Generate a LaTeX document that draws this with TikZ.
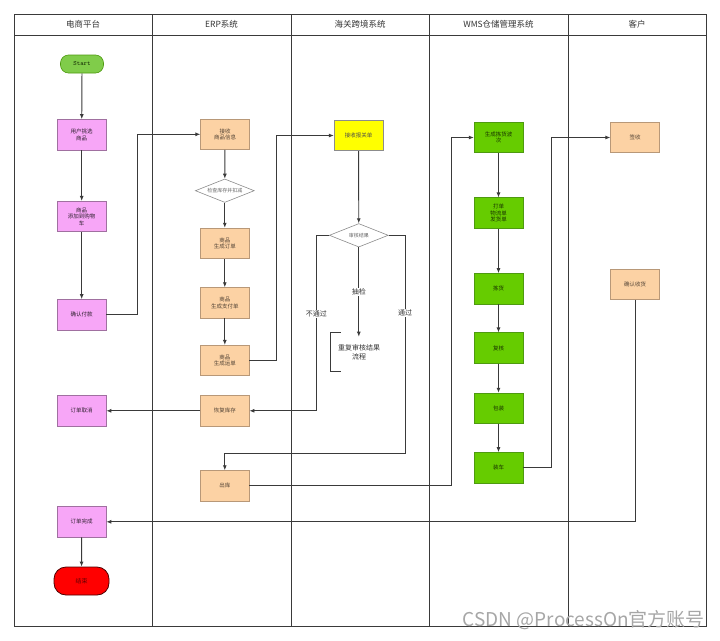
\documentclass[tikz,border=0pt]{standalone}
\usepackage{fontspec}
\newfontfamily\cjk{Noto Sans CJK SC}
\usetikzlibrary{arrows.meta,shapes.geometric,calc}
\definecolor{pinkf}{HTML}{F7A6F7}
\definecolor{pinkd}{HTML}{A070A0}
\definecolor{orgf}{HTML}{FCD2A4}
\definecolor{orgd}{HTML}{B89878}
\definecolor{grnf}{HTML}{66CC00}
\definecolor{grnd}{HTML}{4E9A10}
\definecolor{stf}{HTML}{80CC4A}
\definecolor{yelf}{HTML}{FFFF00}
\definecolor{linec}{HTML}{3A3A3A}
\tikzset{
  box/.style={rectangle, minimum width=48.7pt, minimum height=30.5pt, inner sep=0pt, align=center,
    font=\cjk\fontsize{5.5}{6.6}\selectfont, line width=0.6pt},
  pinkbox/.style={box, fill=pinkf, draw=pinkd, text=black!70!pinkd},
  orgbox/.style={box, fill=orgf, draw=orgd, text=black!55!orgd},
  grnbox/.style={box, fill=grnf, draw=grnd, text=black!75!grnf},
  yelbox/.style={box, fill=yelf, draw=black!45, text=black!70},
  decision/.style={diamond, shape aspect=2.5, inner sep=0pt, minimum width=59pt, minimum height=23.5pt,
    draw=black!45, fill=white, line width=0.6pt, font=\cjk\fontsize{5}{6}\selectfont, text=black!60},
  arr/.style={draw=linec, line width=0.9pt, -{Latex[length=5pt,width=4pt]}},
  conn/.style={draw=linec, line width=0.9pt},
  lbl/.style={fill=white, inner sep=1pt, font=\cjk\fontsize{7}{8}\selectfont, text=black!80},
  frame/.style={draw=linec, line width=1pt},
  hdr/.style={font=\cjk\fontsize{8.5}{10}\selectfont, text=black!80}
}
\begin{document}
\begin{tikzpicture}[x=1pt,y=-1pt]
\useasboundingbox (0,0) rectangle (720,640);
% frame and lanes
\draw[frame] (14,14) rectangle (706,626);
\draw[frame] (14,35) -- (706,35);
\foreach \x in {152,291,429,568} \draw[frame] (\x,14) -- (\x,626);
\node[hdr] (h1) at (83,24.5) {电商平台};
\node[hdr] (h2) at (221.5,24.5) {ERP系统};
\node[hdr] (h3) at (360,24.5) {海关跨境系统};
\node[hdr] (h4) at (498.5,24.5) {WMS仓储管理系统};
\node[hdr] (h5) at (637,24.5) {客户};

% column 1
\node[rectangle, rounded corners=8pt, minimum width=43pt, minimum height=18pt, inner sep=0pt,
  fill=stf, draw=grnd, line width=0.6pt, font=\ttfamily\fontsize{6.5}{7}\selectfont, text=black!70!grnd] (start) at (82,64) {Start};
\node[pinkbox] (pick) at (81.7,134.7) {用户挑选\\商品};
\node[pinkbox] (cart) at (81.7,216.5) {商品\\添加到购物\\车};
\node[pinkbox] (pay) at (81.7,314.7) {确认付款};
\node[pinkbox] (cancel) at (81.7,410.8) {订单取消};
\node[pinkbox] (done) at (81.7,521.8) {订单完成};
\node[rectangle, rounded corners=12pt, minimum width=55pt, minimum height=28pt, inner sep=0pt,
  fill=red, draw=black!70!red, line width=0.8pt, font=\cjk\fontsize{6}{7}\selectfont, text=black!60!red] (end) at (81.5,581) {结束};

% column 2
\node[orgbox] (recv) at (225,134.3) {接收\\商品信息};
\node[decision] (check) at (224.8,190.7) {检查库存并扣减};
\node[orgbox] (order) at (224.8,243.3) {商品\\生成订单};
\node[orgbox] (payslip) at (224.8,302.8) {商品\\生成支付单};
\node[orgbox] (waybill) at (224.8,360.5) {商品\\生成运单};
\node[orgbox] (restore) at (224.8,410.8) {恢复库存};
\node[orgbox] (ship) at (224.8,485.8) {出库};

% column 3
\node[yelbox] (customs) at (358.5,135.5) {接收报关单};
\node[decision] (audit) at (358.8,235.3) {审核结果};
\coordinate (recheck) at (358.8,336.7);
\node[font=\cjk\fontsize{7}{8.5}\selectfont, text=black!80, align=center] (note) at (359,352.5) {重复审核结果\\流程};

% column 4
\node[grnbox] (wave) at (498.5,137.5) {生成拣货波\\次};
\node[grnbox] (print) at (498.5,213) {打单\\物流单\\发货单};
\node[grnbox] (pickg) at (498.5,288.7) {拣货};
\node[grnbox] (review) at (498.5,348) {复核};
\node[grnbox] (pack) at (498.5,408.3) {包装};
\node[grnbox] (load) at (498.5,467.7) {装车};

% column 5
\node[orgbox] (sign) at (635,137.5) {签收};
\node[orgbox] (confirm) at (635,284.3) {确认收货};

% connectors column 1
\draw[arr] (start) -- (pick);
\draw[arr] (pick) -- (cart);
\draw[arr] (cart) -- (pay);
\draw[arr] (done) -- (end);
\draw[arr] (pay.east) -- ++(30.7,0) |- (recv.west);

% column 2
\draw[arr] (recv) -- (check);
\draw[arr] (check) -- (order);
\draw[arr] (order) -- (payslip);
\draw[arr] (payslip) -- (waybill);
\draw[arr] (restore) -- (cancel);
\draw[arr] (waybill.east) -- ++(27,0) |- (customs.west);

% column 3
\draw[arr] (customs) -- (audit);
\draw[arr] (audit.west) -- ++(-12.7,0) |- node[lbl, pos=0.225] {不通过} (restore.east);
\draw[arr] (audit.south) -- node[lbl] {抽检} (recheck);
\draw[arr] (audit.east) -- ++(16.6,0) |- node[lbl, pos=0.178] {通过} ($(ship.north)+(0,-16.7)$) -- (ship.north);
\draw[conn] (340.5,332.7) -- (330.7,332.7) -- (330.7,371.7) -- (340.5,371.7);
\draw[arr] (ship.east) -- ++(201.7,0) |- (wave.west);

% column 4
\draw[arr] (wave) -- (print);
\draw[arr] (print) -- (pickg);
\draw[arr] (pickg) -- (review);
\draw[arr] (review) -- (pack);
\draw[arr] (pack) -- (load);
\draw[arr] (load.east) -- ++(28.3,0) |- (sign.west);

% column 5
\draw[arr] (confirm.south) |- (done.east);

% watermark
\node[font=\cjk\fontsize{19}{21}\selectfont, text=black!35, anchor=east, inner sep=0pt] (wm) at (705,620) {CSDN @ProcessOn官方账号};
\end{tikzpicture}
\end{document}
